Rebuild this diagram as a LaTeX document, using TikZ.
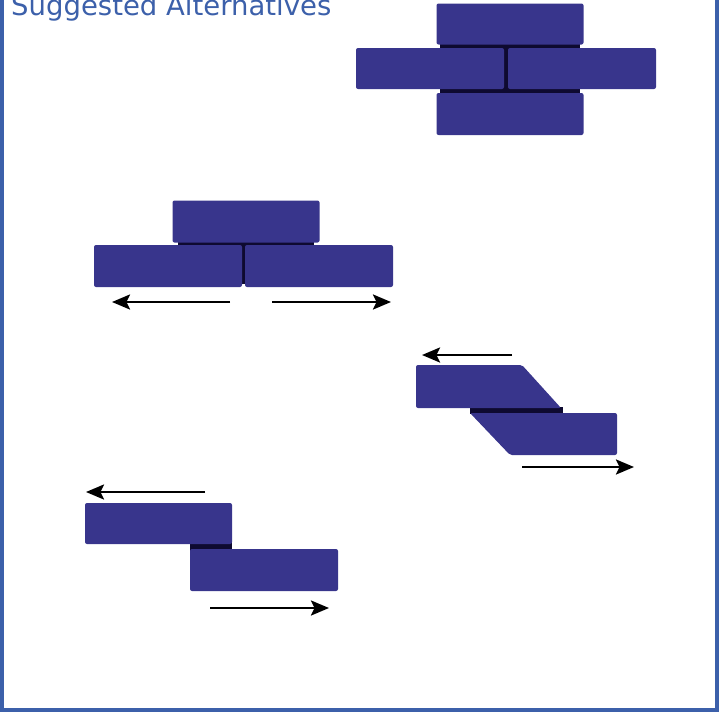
\documentclass[tikz,border=0pt]{standalone}
\usepackage{fontspec}
\newfontfamily\titlefont{DejaVu Sans}
\usetikzlibrary{arrows.meta}
\definecolor{brickblue}{RGB}{56,53,140}
\definecolor{gapdark}{RGB}{14,10,48}
\definecolor{frameblue}{RGB}{60,96,170}
\tikzset{
  brick/.style={rectangle,fill=brickblue,rounded corners=2pt,inner sep=0pt,
    minimum width=147pt,minimum height=41pt},
  gap/.style={fill=gapdark},
  push/.style={line width=2.5pt,-{Stealth[length=18pt,width=15pt,inset=3.5pt]}},
}
\begin{document}
\begin{tikzpicture}[x=1pt,y=-1pt]
\useasboundingbox (0,0) rectangle (719,712);
\clip (0,0) rectangle (719,712);
% frame and title
\draw[frameblue,line width=4pt] (2,-20) rectangle (717,710);
\node[anchor=base west,inner sep=0pt,text=frameblue,font=\titlefont\fontsize{27.5}{30}\selectfont] (title) at (11,15.5) {Suggested Alternatives};
% running bond, four bricks
\fill[gap] (440,42) rectangle (580,95);
\node[brick] (ta) at (510,24) {};
\node[brick,minimum width=148pt] (tb) at (430,68.5) {};
\node[brick,minimum width=148pt] (tc) at (582,68.5) {};
\node[brick,minimum height=42pt] (td) at (510,114) {};
% three bricks pulled apart
\fill[gap] (178,241) rectangle (314,284);
\node[brick,minimum height=42pt] (sa) at (246,221.5) {};
\node[brick,minimum width=148pt,minimum height=42pt] (sb) at (168,266) {};
\node[brick,minimum width=148pt,minimum height=42pt] (sc) at (319,266) {};
\coordinate (sbl) at (230,302);
\coordinate (sbr) at (112,302);
\coordinate (scl) at (272,302);
\coordinate (scr) at (391,302);
\draw[push] (sbl) -- (sbr);
\draw[push] (scl) -- (scr);
% bevelled lap joint
\fill[gap] (470,407) rectangle (563,414);
\fill[brickblue,rounded corners=2pt] (416,365) -- (522,365) -- (561,408) -- (416,408) -- cycle;
\fill[brickblue,rounded corners=2pt] (470,413) -- (617,413) -- (617,455) -- (510,455) -- cycle;
\coordinate (ua) at (512,355);
\coordinate (ub) at (422,355);
\coordinate (uc) at (522,467);
\coordinate (ud) at (634,467);
\draw[push] (ua) -- (ub);
\draw[push] (uc) -- (ud);
% plain lap joint
\fill[gap] (190,542) rectangle (232,551);
\node[brick] (la) at (158.5,523.5) {};
\node[brick,minimum width=148pt,minimum height=42pt] (lb) at (264,570) {};
\coordinate (lal) at (205,492);
\coordinate (lar) at (86,492);
\coordinate (lbl) at (210,608);
\coordinate (lbr) at (329,608);
\draw[push] (lal) -- (lar);
\draw[push] (lbl) -- (lbr);
\end{tikzpicture}
\end{document}
